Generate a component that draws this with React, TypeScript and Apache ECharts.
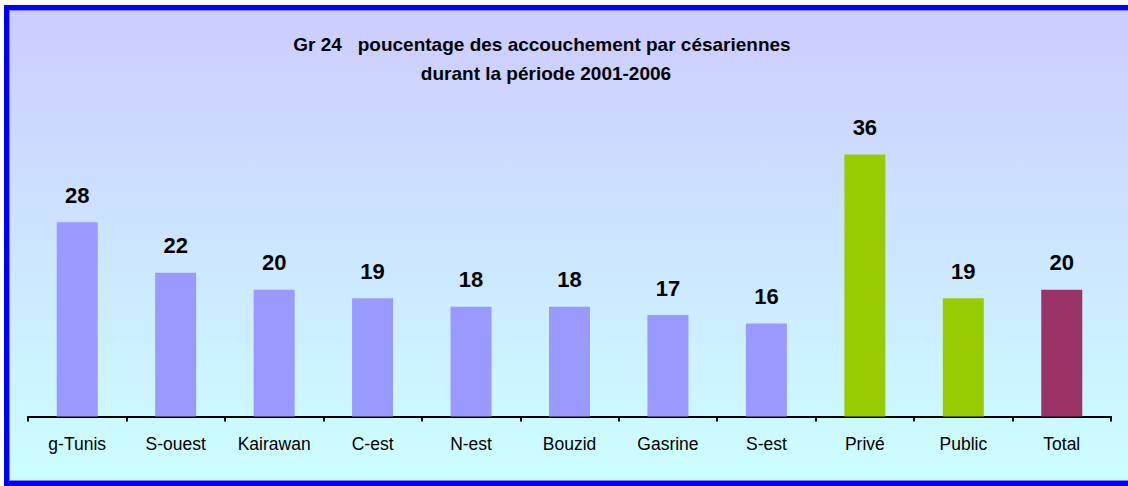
import React, { useEffect, useRef } from "react";
import * as echarts from "echarts";

const categories = ["g-Tunis", "S-ouest", "Kairawan", "C-est", "N-est", "Bouzid", "Gasrine", "S-est", "Privé", "Public", "Total"];
const values = [28, 22, 20, 19, 18, 18, 17, 16, 36, 19, 20];
const barColors = ["#9999FF", "#9999FF", "#9999FF", "#9999FF", "#9999FF", "#9999FF", "#9999FF", "#9999FF", "#99CC00", "#99CC00", "#993366"];
const titleLine1 = "Gr 24   poucentage des accouchement par césariennes";
const titleLine2 = "durant la période 2001-2006";

const FONT = 'Arial, "Liberation Sans", sans-serif';

export default function App() {
  const ref = useRef<HTMLDivElement>(null);
  useEffect(() => {
    if (!ref.current) return;
    const chart = echarts.init(ref.current, undefined, { renderer: "svg" });
    chart.setOption({
      animation: false,
      backgroundColor: "transparent",
      graphic: [
        { type: "text", z: 5, x: 542, y: 44, style: { text: titleLine1, font: `bold 19px ${FONT}`, fill: "#000", textAlign: "center", textVerticalAlign: "middle" } },
        { type: "text", z: 5, x: 546, y: 73, style: { text: titleLine2, font: `bold 19px ${FONT}`, fill: "#000", textAlign: "center", textVerticalAlign: "middle" } },
      ],
      grid: { left: 28, right: 17, top: 120.75, bottom: 69.5, containLabel: false },
      xAxis: {
        type: "category",
        data: categories,
        axisLine: { show: true, lineStyle: { color: "#000", width: 2 } },
        axisTick: { show: true, inside: false, length: 5, lineStyle: { color: "#000", width: 2 }, alignWithLabel: false },
        axisLabel: { color: "#000", fontSize: 17.5, fontFamily: FONT, margin: 18, interval: 0 },
        splitLine: { show: false },
      },
      yAxis: {
        type: "value",
        min: 5,
        max: 40,
        show: false,
        splitLine: { show: false },
      },
      series: [
        {
          type: "bar",
          data: values.map((v, i) => ({ value: v, itemStyle: { color: barColors[i] } })),
          barWidth: 41,
          label: {
            show: true,
            position: "top",
            distance: 16,
            color: "#000",
            fontWeight: "bold",
            fontSize: 22,
            fontFamily: FONT,
          },
        },
      ],
    });
    return () => chart.dispose();
  }, []);
  return (
    <div style={{ position: "fixed", left: 0, top: 0, width: 1128, height: 486, overflow: "hidden", background: "#fff" }}>
      <div
        style={{
          position: "absolute",
          left: 4,
          top: 5,
          width: 1200,
          height: 481,
          boxSizing: "border-box",
          border: "5px solid #0000FF",
          boxShadow: "inset 0 0 0 1px #7F7FFF",
          background: "linear-gradient(to bottom, #CCCCFF 0%, #CCFFFF 100%)",
        }}
      />
      <div ref={ref} style={{ position: "absolute", left: 0, top: 0, width: 1128, height: 486 }} />
    </div>
  );
}
